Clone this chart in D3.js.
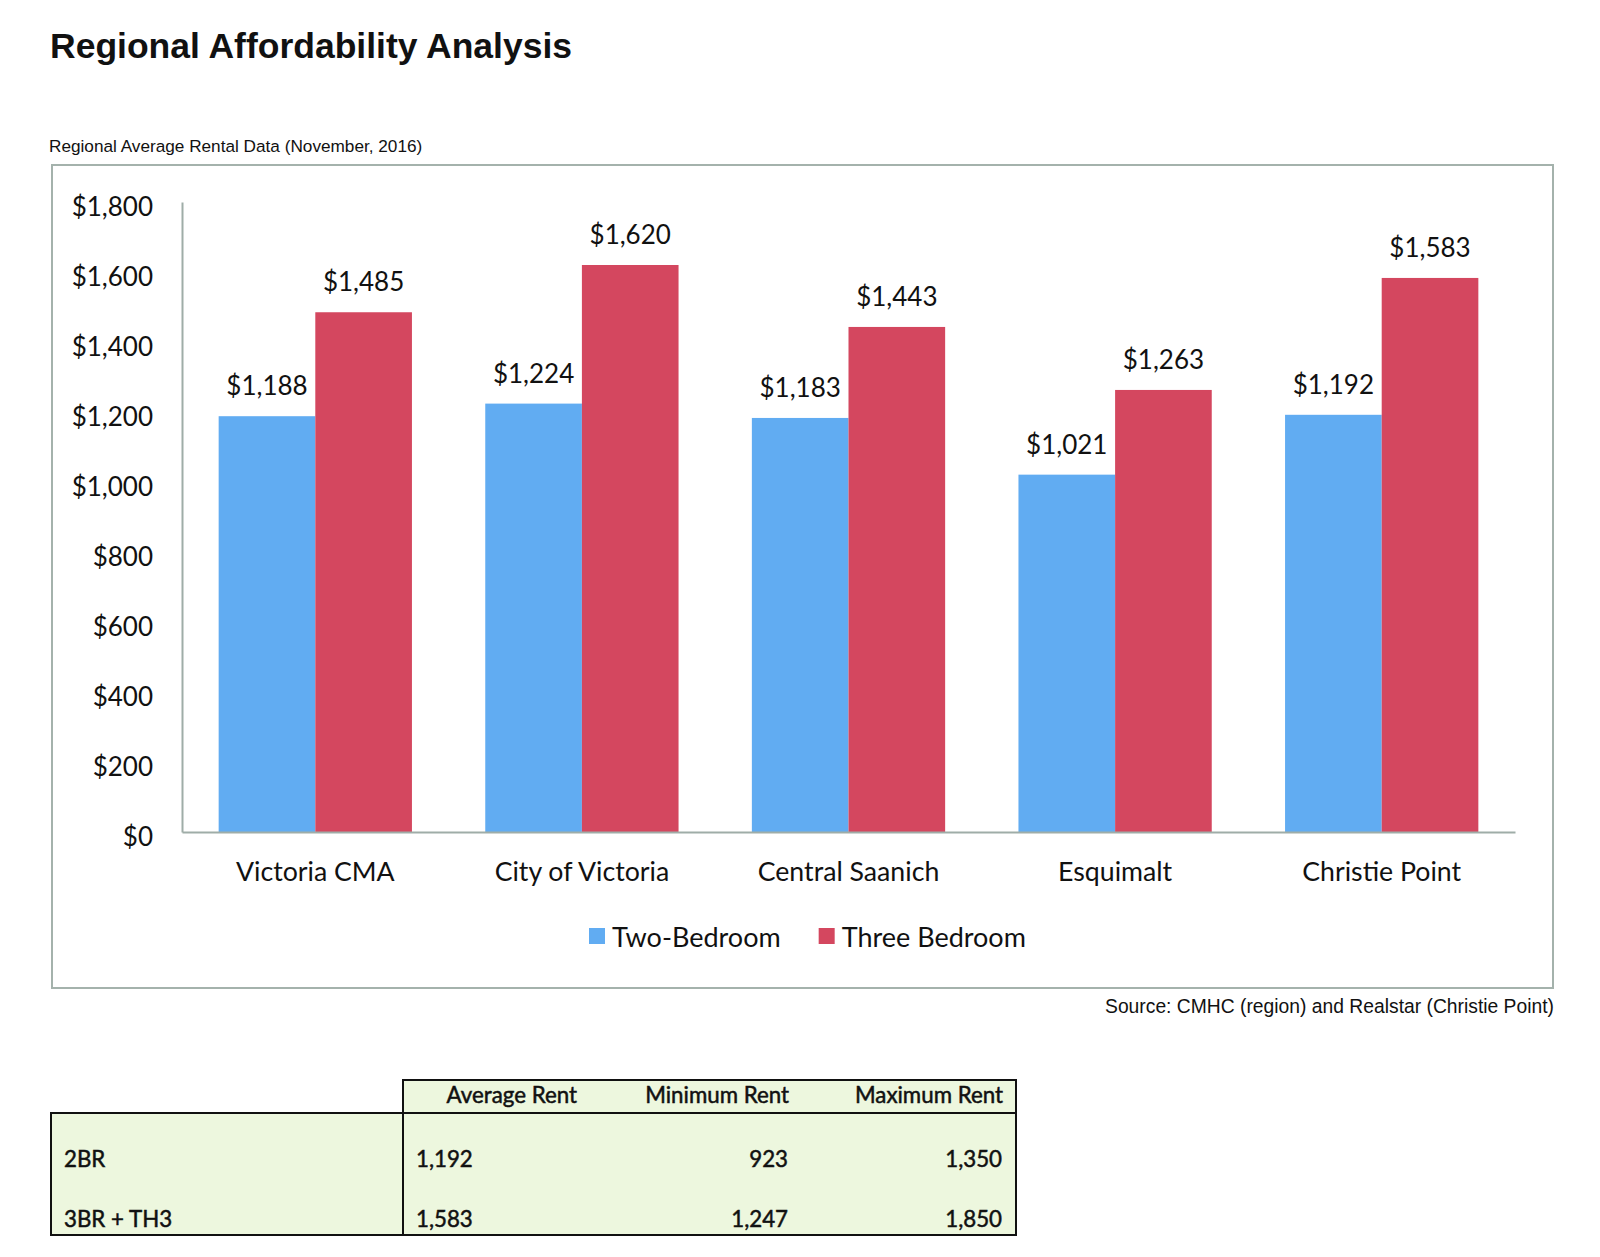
<!DOCTYPE html>
<html>
<head>
<meta charset="utf-8">
<script src="https://cdnjs.cloudflare.com/ajax/libs/d3/7.8.5/d3.min.js"></script>
<style>
  body { margin: 0; background: #fff; }
  svg { display: block; }
</style>
</head>
<body>
<div id="chart"></div>
<script>
// chart data
var categories = ["Victoria CMA", "City of Victoria", "Central Saanich", "Esquimalt", "Christie Point"]
var series = ["Two-Bedroom", "Three Bedroom"]
var twoBedroom = [1188, 1224, 1183, 1021, 1192]
var threeBedroom = [1485, 1620, 1443, 1263, 1583]
var yTicks = [0, 200, 400, 600, 800, 1000, 1200, 1400, 1600, 1800]

// table data
var tableHeaders = ["Average Rent", "Minimum Rent", "Maximum Rent"]
var tableRowLabels = ["2BR", "3BR + TH3"]
var avgRent = ["1,192", "1,583"]
var minRent = ["923", "1,247"]
var maxRent = ["1,350", "1,850"]

var colors = { "Two-Bedroom": "#61acf2", "Three Bedroom": "#d4475f" }
var chartFont = "Lato, 'Noto Sans', sans-serif"
var helv = "'Liberation Sans', Arial, sans-serif"

var width = 1600, height = 1257

var svg = d3.select("#chart")
  .append("svg")
  .attr("width", width)
  .attr("height", height)

// title and subtitle
svg.append("text")
  .attr("x", 50)
  .attr("y", 58)
  .attr("font-family", helv)
  .attr("font-weight", "bold")
  .attr("font-size", 35.5)
  .attr("fill", "#111")
  .text("Regional Affordability Analysis")

svg.append("text")
  .attr("x", 49)
  .attr("y", 152)
  .attr("font-family", helv)
  .attr("font-size", 17.2)
  .attr("fill", "#111")
  .text("Regional Average Rental Data (November, 2016)")

// chart frame
svg.append("rect")
  .attr("x", 52)
  .attr("y", 165)
  .attr("width", 1501)
  .attr("height", 823)
  .attr("fill", "#fff")
  .attr("stroke", "#a4b2ac")
  .attr("stroke-width", 2)

var plot = { left: 182, right: 1515, top: 202, bottom: 832 }

var x0 = d3.scaleBand()
  .domain(categories)
  .range([plot.left, plot.right])
  .paddingInner(0.275)
  .paddingOuter(0.1375)

var x1 = d3.scaleBand()
  .domain(series)
  .range([0, x0.bandwidth()])

var y = d3.scaleLinear()
  .domain([0, 1800])
  .range([plot.bottom, plot.top])

var fmt = function(d) { return "$" + d3.format(",")(d) }

var rows = categories.map(function(c, i) {
  return { cat: c, values: [
    { key: series[0], value: twoBedroom[i] },
    { key: series[1], value: threeBedroom[i] }
  ]}
})

// bars
var groups = svg.append("g")
  .attr("class", "groups")
  .selectAll("g")
  .data(rows)
  .enter()
  .append("g")
  .attr("transform", function(d) { return "translate(" + x0(d.cat) + ",0)" })

groups.selectAll("rect")
  .data(function(d) { return d.values })
  .enter()
  .append("rect")
  .attr("x", function(d) { return x1(d.key) })
  .attr("y", function(d) { return y(d.value) })
  .attr("width", x1.bandwidth())
  .attr("height", function(d) { return y(0) - y(d.value) })
  .attr("fill", function(d) { return colors[d.key] })

// value labels
groups.selectAll("text")
  .data(function(d) { return d.values })
  .enter()
  .append("text")
  .attr("x", function(d) { return x1(d.key) + x1.bandwidth() / 2 })
  .attr("y", function(d) { return y(d.value) - 21 })
  .attr("text-anchor", "middle")
  .attr("font-family", chartFont)
  .attr("font-size", 26)
  .attr("fill", "#111")
  .text(function(d) { return fmt(d.value) })

// y axis
var yAxis = svg.append("g")
  .attr("transform", "translate(" + plot.left + ",0)")
  .call(d3.axisLeft(y).tickValues(yTicks).tickSize(0).tickSizeOuter(0).tickPadding(29).tickFormat(fmt))

yAxis.select(".domain").attr("stroke", "#9fada8").attr("stroke-width", 2)
yAxis.selectAll("text")
  .attr("font-family", chartFont)
  .attr("font-size", 26)
  .attr("fill", "#111")
  .attr("dy", "0.5em")

// x axis
var xAxis = svg.append("g")
  .attr("transform", "translate(0," + plot.bottom + ")")
  .call(d3.axisBottom(x0).tickSize(0).tickSizeOuter(0).tickPadding(0))

xAxis.select(".domain").attr("stroke", "#9fada8").attr("stroke-width", 2)
xAxis.selectAll("text")
  .attr("font-family", chartFont)
  .attr("font-size", 26.7)
  .attr("fill", "#111")
  .attr("dy", 49)

// legend
var legend = svg.append("g").attr("class", "legend")
var lx = 589
series.forEach(function(s) {
  legend.append("rect")
    .attr("x", lx)
    .attr("y", 928)
    .attr("width", 16)
    .attr("height", 16)
    .attr("fill", colors[s])
  var t = legend.append("text")
    .attr("x", lx + 23)
    .attr("y", 947)
    .attr("font-family", chartFont)
    .attr("font-size", 27)
    .attr("fill", "#111")
    .text(s)
  lx = lx + 23 + t.node().getComputedTextLength() + 38
})

// source note
svg.append("text")
  .attr("x", 1554)
  .attr("y", 1013)
  .attr("text-anchor", "end")
  .attr("font-family", helv)
  .attr("font-size", 19.3)
  .attr("fill", "#111")
  .text("Source: CMHC (region) and Realstar (Christie Point)")

// ---- table ----
var cols = [51, 403, 590, 802, 1016]
var tTop = 1080, tHead = 1113, tBottom = 1235
var green = "#edf7de"
var table = svg.append("g").attr("class", "table")

table.append("rect")
  .attr("x", cols[1]).attr("y", tTop)
  .attr("width", cols[4] - cols[1]).attr("height", tHead - tTop)
  .attr("fill", green)
table.append("rect")
  .attr("x", cols[0]).attr("y", tHead)
  .attr("width", cols[4] - cols[0]).attr("height", tBottom - tHead)
  .attr("fill", green)

var lines = [
  [cols[1], tTop, cols[4], tTop],
  [cols[0], tHead, cols[4], tHead],
  [cols[0], tBottom, cols[4], tBottom],
  [cols[0], tHead, cols[0], tBottom],
  [cols[1], tTop, cols[1], tBottom],
  [cols[4], tTop, cols[4], tBottom]
]
table.selectAll("line")
  .data(lines)
  .enter()
  .append("line")
  .attr("x1", function(d) { return d[0] })
  .attr("y1", function(d) { return d[1] })
  .attr("x2", function(d) { return d[2] })
  .attr("y2", function(d) { return d[3] })
  .attr("stroke", "#111")
  .attr("stroke-width", 2)
  .attr("stroke-linecap", "square")

// table text is a little heavier than the chart text
var tf = { family: chartFont, size: 22.3 }
function cellText(sel) {
  sel.attr("font-family", tf.family)
    .attr("font-size", tf.size)
    .attr("fill", "#111")
    .attr("stroke", "#111")
    .attr("stroke-width", 0.5)
}

table.selectAll("text.head")
  .data(tableHeaders)
  .enter()
  .append("text")
  .attr("class", "head")
  .attr("x", function(d, i) { return cols[i + 2] - 13 })
  .attr("y", 1103)
  .attr("text-anchor", "end")
  .call(cellText)
  .text(function(d) { return d })

var rowY = [1167, 1227]
tableRowLabels.forEach(function(lbl, i) {
  table.append("text")
    .attr("x", 64).attr("y", rowY[i])
    .call(cellText)
    .text(lbl)
  table.append("text")
    .attr("x", cols[1] + 13).attr("y", rowY[i])
    .call(cellText)
    .text(avgRent[i])
  table.append("text")
    .attr("x", cols[3] - 14).attr("y", rowY[i])
    .attr("text-anchor", "end")
    .call(cellText)
    .text(minRent[i])
  table.append("text")
    .attr("x", cols[4] - 14).attr("y", rowY[i])
    .attr("text-anchor", "end")
    .call(cellText)
    .text(maxRent[i])
})
</script>
</body>
</html>
